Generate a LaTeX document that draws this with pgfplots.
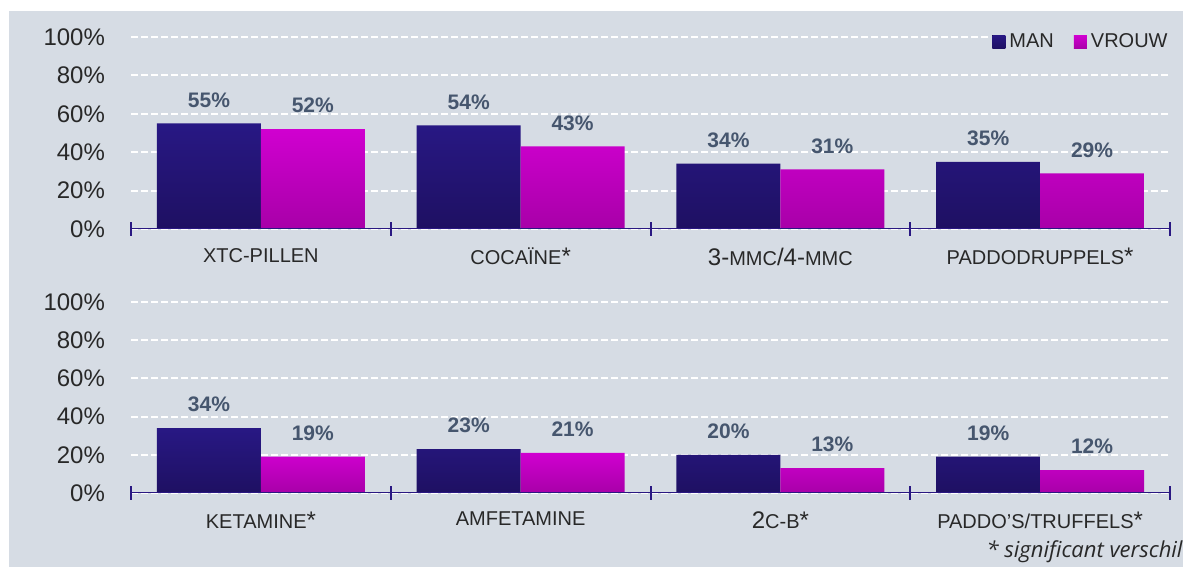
\documentclass[border=0pt]{standalone}
\usepackage{pgfplots}
\pgfplotsset{compat=1.18}
\usepackage{fontspec}
\setmainfont{Liberation Sans}
\newfontfamily\notefont{Open Sans}
\definecolor{bg}{RGB}{214,220,228}
\definecolor{manT}{RGB}{40,24,132}
\definecolor{manB}{RGB}{30,16,98}
\definecolor{vrT}{RGB}{208,0,208}
\definecolor{vrB}{RGB}{168,0,168}
\definecolor{axcol}{RGB}{42,24,130}
\definecolor{valcol}{RGB}{70,86,110}
\definecolor{txt}{RGB}{40,40,40}
\newcommand{\cs}{\fontsize{10}{12}\selectfont}
\newcommand{\cb}{\fontsize{12}{14}\selectfont}
\pgfplotsset{
  panel/.style={
    scale only axis, width=519.5pt,
    xmin=0, xmax=4, ymin=0, ymax=100,
    axis line style={draw=none},
    xtick={0,1,2,3,4}, xticklabels={},
    xtick pos=bottom,
    x tick style={axcol, line width=1pt},
    major tick length=7pt, tick align=center,
    extra x ticks={0.5,1.5,2.5,3.5},
    extra x tick style={major tick length=0pt, tick style={draw=none},
      tick label style={font=\cs, text=txt, yshift=-6pt}},
    ytick={0,20,40,60,80,100},
    yticklabels={0\%,20\%,40\%,60\%,80\%,100\%},
    y tick style={draw=none},
    yticklabel style={font=\cb, text=txt, xshift=-6pt},
    ymajorgrids,
    major grid style={white, line width=1pt, dash pattern=on 3.5pt off 1.5pt},
    /pgf/number format/assume math mode=true,
    nodes near coords={\pgfmathprintnumber{\pgfplotspointmeta}\%},
    every node near coord/.append style={font=\bfseries\fontsize{10.5}{12}\selectfont, text=valcol, yshift=4.5pt},
  },
  manbar/.style={ybar, bar width=0.4, bar shift=0, draw=none, top color=manT, bottom color=manB},
  vrbar/.style={ybar, bar width=0.4, bar shift=0, draw=none, top color=vrT, bottom color=vrB},
}
\begin{document}
\begin{tikzpicture}
\clip (0,0) rectangle (591.5pt,283.5pt);
\fill[white] (0,0) rectangle (591.5pt,283.5pt);
\fill[bg] (4.5pt,0) rectangle (591.5pt,278pt);
\begin{axis}[panel, at={(65.5pt,169pt)}, anchor=south west, height=96pt,
  extra x tick labels={XTC-PILLEN, COCAÏNE{\cb*}, {{\cb 3-}MMC{\cb /4-}MMC}, PADDODRUPPELS{\cb*}},
  legend columns=2,
  legend style={at={(1,1)}, anchor=east, yshift=-2.5pt, xshift=3pt, draw=none, fill=bg,
    font=\fontsize{10}{11}\selectfont, text=txt, inner xsep=2pt, inner ysep=1pt,
    /tikz/column 2/.style={column sep=8pt}},
  legend image code/.code={\fill[#1] (0pt,-3.25pt) rectangle (6.5pt,3.25pt);},
]
\addplot[manbar] coordinates {(0.3,55) (1.3,54) (2.3,34) (3.3,35)};
\addplot[vrbar] coordinates {(0.7,52) (1.7,43) (2.7,31) (3.7,29)};
\legend{MAN,VROUW}
\draw[axcol, line width=1.4pt] (axis cs:0,0) -- (axis cs:4,0);
\end{axis}
\begin{axis}[panel, at={(65.5pt,37pt)}, anchor=south west, height=95.5pt,
  extra x tick labels={KETAMINE{\cb*}, AMFETAMINE, {{\cb 2}C-B{\cb*}}, PADDO'S/TRUFFELS{\cb*}},
]
\addplot[manbar] coordinates {(0.3,34) (1.3,23) (2.3,20) (3.3,19)};
\addplot[vrbar] coordinates {(0.7,19) (1.7,21) (2.7,13) (3.7,12)};
\draw[axcol, line width=1.4pt] (axis cs:0,0) -- (axis cs:4,0);
\end{axis}
\node[anchor=base east, font=\notefont\itshape\fontsize{11}{12}\selectfont, text=txt, inner sep=0pt] at (591.5pt,4.5pt) {* significant verschil};
\end{tikzpicture}
\end{document}
